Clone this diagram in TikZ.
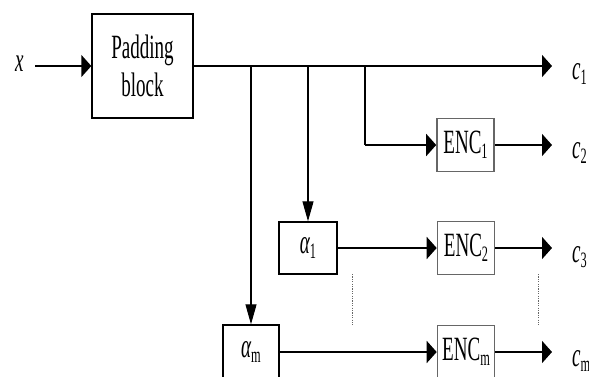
\documentclass[tikz,border=0pt]{standalone}
\usepackage{fontspec}
\usetikzlibrary{arrows.meta}
\newfontfamily\tf[FakeStretch=0.56]{Liberation Serif}
\newcommand{\lowsub}[1]{\raisebox{-5pt}{\fontsize{22}{22}\selectfont #1}}
\begin{document}
\begin{tikzpicture}[x=1pt,y=-1pt,
  every node/.style={font=\tf\fontsize{34}{38}\selectfont},
  blk/.style={draw=black,line width=1.4pt,inner sep=0pt,align=center},
  encbox/.style={draw=black!60,line width=1.6pt,inner sep=0pt,minimum width=57pt,minimum height=53pt},
  hl/.style={line width=1.8pt,-{Triangle[length=10pt,width=22pt]}},
  vl/.style={line width=1.1pt,-{Triangle[length=20pt,width=11pt]}},
  hplain/.style={line width=1.8pt},
  lab/.style={anchor=base west,inner sep=0pt},
  dots/.style={draw=black!60,line width=0.8pt,dash pattern=on 1.2pt off 1.2pt}
]
\useasboundingbox (0,0) rectangle (589,376);
\begin{scope}
\clip (0,0) rectangle (589,376);
% nodes
\node[blk,minimum width=101pt,minimum height=104pt] (pad) at (142.5,66) {Padding\\block};
\node[encbox] (enc1) at (465.5,145) {ENC\lowsub{1}};
\node[encbox] (enc2) at (466,248) {ENC\lowsub{2}};
\node[encbox] (encm) at (466,352) {ENC\lowsub{m}};
\node[blk,minimum width=58pt,minimum height=52pt] (a1) at (308,248) {\itshape α\upshape\lowsub{1}};
\node[blk,minimum width=56pt,minimum height=54pt] (am) at (251,352) {\itshape α\upshape\lowsub{m}};
% labels
\node[lab] (xl) at (15,71) {\itshape x};
\coordinate (xs) at (35,66);
\node[lab] (c1) at (572,79) {\itshape c\upshape\lowsub{1}};
\node[lab] (c2) at (572,158) {\itshape c\upshape\lowsub{2}};
\node[lab] (c3) at (572,262) {\itshape c\upshape\lowsub{3}};
\node[lab] (cm) at (572,366) {\itshape c\upshape\lowsub{m}};
\coordinate (e1) at (552,66);
\coordinate (e2) at (552,145);
\coordinate (e3) at (552,248);
\coordinate (em) at (552,352);
\coordinate (bm) at (251,66);
\coordinate (b1) at (308,66);
\coordinate (bE) at (365,66);
\coordinate (bEc) at (365,145);
% connectors
\draw[hl] (xs) -- (pad.west);
\draw[hl] (pad.east) -- (e1);
\draw[vl] (bm) -- (am.north);
\draw[vl] (b1) -- (a1.north);
\draw[line width=1.1pt] (bE) -- (bEc);
\draw[hl] (bEc) -- (enc1.west);
\draw[hl] (enc1.east) -- (e2);
\draw[hl] (a1.east) -- (enc2.west);
\draw[hl] (enc2.east) -- (e3);
\draw[hl] (am.east) -- (encm.west);
\draw[hl] (encm.east) -- (em);
% dotted continuation marks
\coordinate (d1a) at (352,274);
\coordinate (d1b) at (352,325);
\coordinate (d2a) at (538,274);
\coordinate (d2b) at (538,325);
\draw[dots] (d1a) -- (d1b);
\draw[dots] (d2a) -- (d2b);
\end{scope}
\end{tikzpicture}
\end{document}
